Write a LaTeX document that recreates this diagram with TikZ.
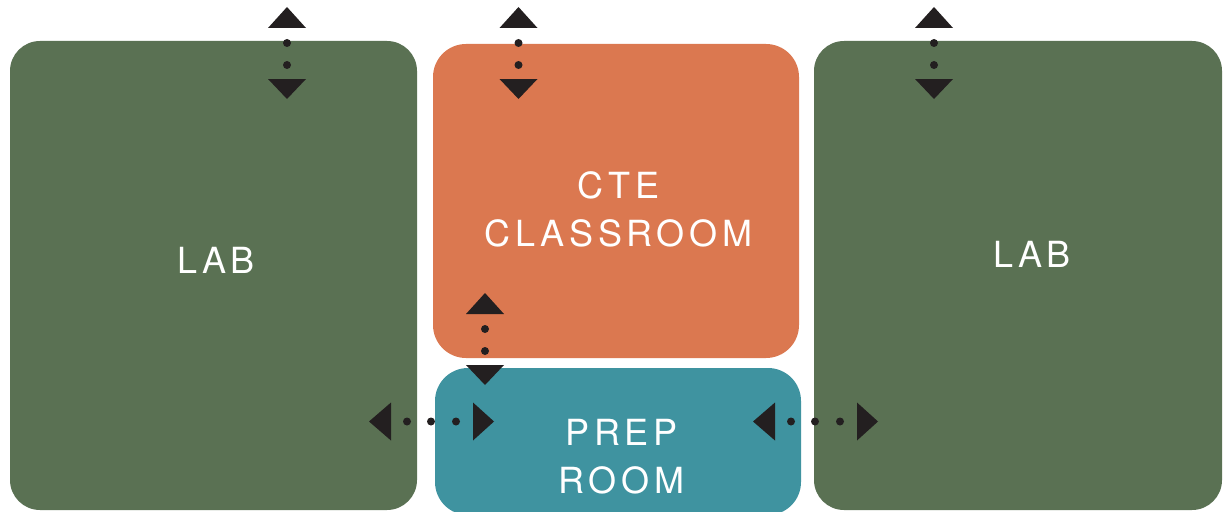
\documentclass[tikz,border=0pt]{standalone}
\usepackage{fontspec}
\newfontfamily\roomfont[LetterSpace=13]{TeX Gyre Heros}
\definecolor{labgreen}{HTML}{5A7153}
\definecolor{cteorange}{HTML}{DB7850}
\definecolor{prepteal}{HTML}{3F93A0}
\definecolor{markdark}{HTML}{231F20}
\tikzset{
  room/.style={inner sep=0pt, outer sep=0pt, draw=none},
  roomlabel/.style={font=\roomfont\fontsize{36}{48}\selectfont, text=white, align=center, inner sep=0pt},
  vdoor/.pic={
    \fill[markdark] (-19,21) -- (19,21) -- (0,0) -- cycle;
    \fill[markdark] (0,36) circle[radius=4pt] (0,58) circle[radius=4pt];
    \fill[markdark] (-19,72) -- (19,72) -- (0,92) -- cycle;
  },
  hdoor/.pic={
    \fill[markdark] (0,0) -- (22,-19) -- (22,19) -- cycle;
    \fill[markdark] (38,0) circle[radius=4pt] (62,0) circle[radius=4pt] (87,0) circle[radius=4pt];
    \fill[markdark] (104,-19) -- (104,19) -- (125,0) -- cycle;
  }
}
\begin{document}
\begin{tikzpicture}[x=1pt,y=-1pt]
\useasboundingbox[fill=white] (0,0) rectangle (1228,511);
% rooms
\node[room, fill=labgreen, rounded corners=30pt, minimum width=407pt, minimum height=469pt] (labL) at (213.5,275.5) {};
\node[room, fill=labgreen, rounded corners=30pt, minimum width=408pt, minimum height=469pt] (labR) at (1018,275.5) {};
\node[room, fill=cteorange, rounded corners=33pt, minimum width=366pt, minimum height=314pt] (cte) at (616,201) {};
\node[room, fill=prepteal, rounded corners=33pt, minimum width=366pt, minimum height=147pt] (prep) at (618,441.5) {};
% labels
\node[roomlabel] (labLtext) at (216,260.5) {LAB};
\node[roomlabel] (labRtext) at (1032,254.5) {LAB};
\node[roomlabel] (ctetext) at (618.5,209) {CTE\\CLASSROOM};
\node[roomlabel] (preptext) at (621.5,457) {PREP\\ROOM};
% door markers
\pic (doorL) at (287,7) {vdoor};
\pic (doorC) at (518.5,7) {vdoor};
\pic (doorR) at (934,7) {vdoor};
\pic (doorCP) at (485,293) {vdoor};
\pic (doorLP) at (369,421.5) {hdoor};
\pic (doorPR) at (753,421.5) {hdoor};
\end{tikzpicture}
\end{document}
